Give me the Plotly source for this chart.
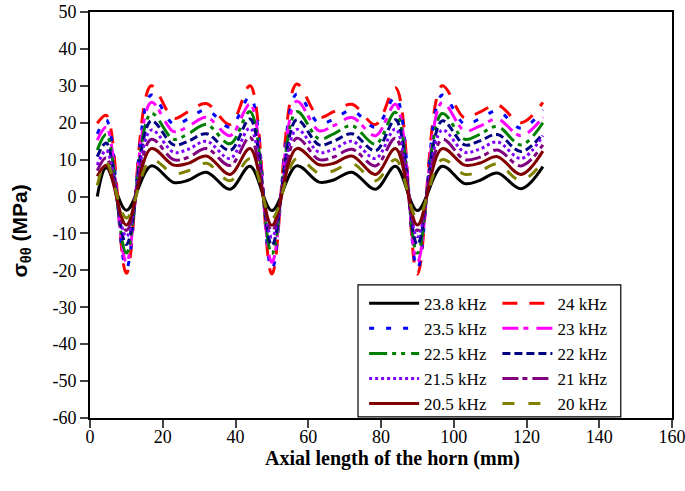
import plotly.graph_objects as go

# Axial positions (mm)
x_mm = [2, 4.5, 10, 16.8, 23, 27, 32, 38.5, 44, 50, 56.8, 63, 67, 72, 78.5, 84, 90, 96.8, 103, 107, 112, 118.5, 124.5]

# Hoop stress (MPa) for each frequency
s_23_8 = [0.0, 7.8, -3.7, 8.3, 3.8, 4.4, 6.6, 2.0, 8.2, -3.8, 8.3, 3.9, 4.5, 6.6, 2.0, 8.2, -3.8, 8.2, 3.5, 4.3, 6.4, 2.1, 8.1]
s_24_0 = [19.8, 22.0, -20.8, 30.0, 21.2, 23.0, 25.2, 19.5, 30.0, -21.0, 30.5, 21.5, 23.0, 25.0, 19.5, 29.5, -21.0, 30.0, 21.3, 22.8, 24.8, 20.0, 25.5]
s_23_5 = [17.0, 20.7, -19.4, 27.5, 19.6, 21.0, 23.5, 18.8, 27.0, -19.6, 27.8, 19.8, 21.0, 23.3, 18.8, 27.0, -19.5, 27.5, 19.6, 21.0, 23.2, 18.5, 23.5]
s_23_0 = [15.3, 18.8, -17.7, 25.5, 17.6, 19.0, 21.5, 16.5, 25.0, -17.8, 25.8, 17.8, 19.2, 21.4, 16.5, 25.0, -17.7, 25.5, 17.8, 19.0, 21.0, 16.5, 21.5]
s_22_5 = [12.6, 16.8, -15.3, 22.5, 15.5, 17.0, 19.5, 14.3, 23.0, -15.4, 23.0, 15.6, 17.0, 19.2, 14.2, 22.8, -15.3, 22.5, 15.5, 16.8, 19.0, 14.0, 20.0]
s_22_0 = [10.8, 14.5, -13.0, 20.5, 14.0, 15.0, 17.0, 12.5, 21.0, -13.2, 20.8, 14.0, 15.0, 17.0, 12.4, 20.8, -13.0, 20.5, 14.0, 15.0, 16.8, 12.2, 17.0]
s_21_5 = [8.5, 12.5, -10.8, 18.0, 12.0, 12.8, 15.0, 10.3, 18.5, -11.0, 18.2, 12.0, 12.8, 15.0, 10.3, 18.3, -10.9, 18.0, 12.0, 12.8, 14.8, 10.3, 16.5]
s_21_0 = [7.0, 10.5, -9.2, 15.5, 10.0, 10.6, 13.0, 8.4, 16.0, -9.3, 15.8, 10.0, 10.7, 12.8, 8.3, 15.8, -9.2, 15.5, 10.0, 10.6, 12.6, 8.3, 14.0]
s_20_5 = [5.5, 8.5, -7.7, 13.0, 8.5, 9.0, 11.0, 6.0, 13.0, -7.8, 13.0, 8.6, 9.0, 11.0, 6.0, 13.0, -7.7, 13.0, 8.5, 9.0, 10.8, 6.0, 12.3]
s_20_0 = [3.0, 9.2, -5.8, 10.0, 6.2, 7.0, 9.0, 4.3, 10.2, -5.9, 10.3, 6.3, 7.0, 9.0, 4.3, 10.0, -5.8, 10.0, 6.0, 6.8, 8.8, 4.3, 9.5]

x_ticks = [0, 20, 40, 60, 80, 100, 120, 140, 160]
x_tick_labels = ["0", "20", "40", "60", "80", "100", "120", "140", "160"]
y_ticks = [-60, -50, -40, -30, -20, -10, 0, 10, 20, 30, 40, 50]
y_tick_labels = ["-60", "-50", "-40", "-30", "-20", "-10", "0", "10", "20", "30", "40", "50"]

series = [
    ("23.8 kHz", s_23_8, "#000000", "solid", "legend"),
    ("24 kHz", s_24_0, "#FF0000", "15px,12px", "legend2"),
    ("23.5 kHz", s_23_5, "#0000FF", "5px,12px", "legend"),
    ("23 kHz", s_23_0, "#FF00FF", "16px,5px,5px,8px", "legend2"),
    ("22.5 kHz", s_22_5, "#008000", "18px,5px,4px,5px,4px,6px", "legend"),
    ("22 kHz", s_22_0, "#000080", "8px,4px", "legend2"),
    ("21.5 kHz", s_21_5, "#8000FF", "3px,3px", "legend"),
    ("21 kHz", s_21_0, "#800080", "16px,4px,5px,5px", "legend2"),
    ("20.5 kHz", s_20_5, "#800000", "solid", "legend"),
    ("20 kHz", s_20_0, "#808000", "12px,14px", "legend2"),
]

fig = go.Figure()
for name, ys, color, dash, leg in series:
    fig.add_trace(go.Scatter(
        x=x_mm, y=ys, mode="lines", name=name, legend=leg,
        line=dict(color=color, width=3, dash=dash, shape="spline", smoothing=1.0),
    ))

serif = "Liberation Serif"
legend_common = dict(
    bgcolor="rgba(0,0,0,0)", borderwidth=0, xanchor="left", yanchor="top",
    font=dict(family=serif, size=17, color="#000"), itemwidth=50,
    tracegroupgap=0,
)

fig.update_layout(
    width=685, height=491,
    margin=dict(l=90, r=13, t=12, b=73, autoexpand=False),
    paper_bgcolor="white", plot_bgcolor="white",
    font=dict(family=serif, size=18, color="#000"),
    xaxis=dict(
        range=[0, 160], tickvals=x_ticks, ticktext=x_tick_labels, ticks="outside",
        ticklen=8, tickwidth=1.5, automargin=False, ticklabelstandoff=-7,
        ticklabeloverflow="allow",
        showline=True, linecolor="#000", linewidth=2, mirror=True, showgrid=False,
        zeroline=False, tickfont=dict(family=serif, size=18, color="#000"),
    ),
    yaxis=dict(
        range=[-60, 50], tickvals=y_ticks, ticktext=y_tick_labels, ticks="outside",
        ticklen=8, tickwidth=1.5, automargin=False, ticklabeloverflow="allow",
        showline=True, linecolor="#000", linewidth=2, mirror=True, showgrid=False,
        zeroline=False, tickfont=dict(family=serif, size=18, color="#000"),
    ),
    legend=dict(x=0.471, y=0.326, **legend_common),
    legend2=dict(x=0.700, y=0.326, **legend_common),
    shapes=[dict(type="rect", xref="paper", yref="paper",
                 x0=0.4605, x1=0.912, y0=0.003, y1=0.328,
                 line=dict(color="#000", width=1.2))],
    annotations=[
        dict(text="<b>σ<sub>θθ</sub> (MPa)</b>", xref="paper", yref="paper",
             x=-0.118, y=0.46, xanchor="center", yanchor="middle", textangle=-90,
             showarrow=False,
             font=dict(family="Liberation Sans", size=21, color="#000")),
        dict(text="<b>Axial length of the horn (mm)</b>", xref="paper", yref="paper",
             x=0.519, y=-0.1, xanchor="center", yanchor="middle", showarrow=False,
             font=dict(family=serif, size=20, color="#000")),
    ],
)

fig.write_html("out.html", config={"displayModeBar": False},
               post_script="document.body.style.margin='0px';")
